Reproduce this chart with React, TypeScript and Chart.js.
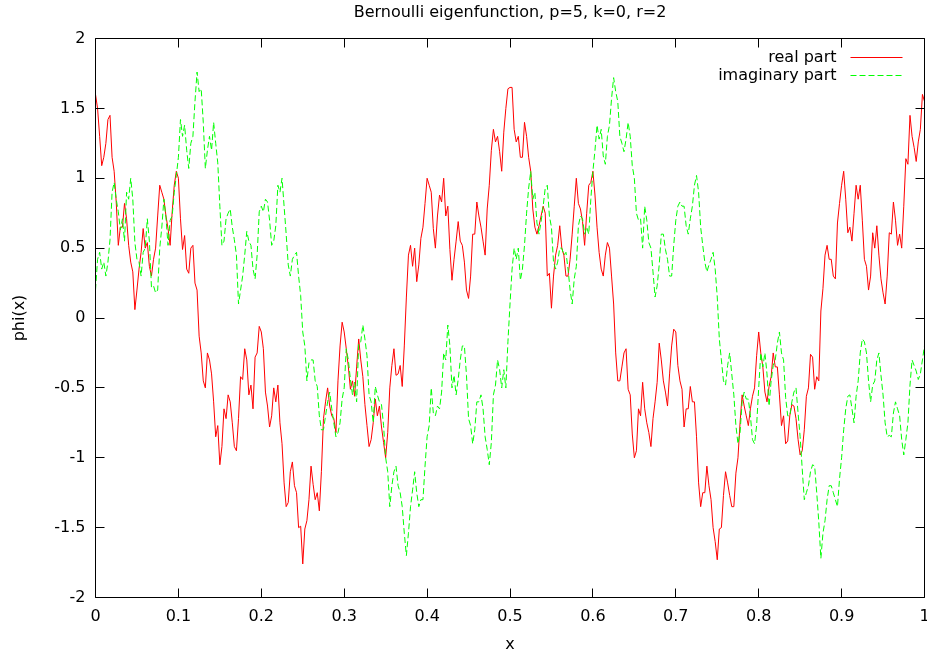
import React, { useEffect, useRef } from "react";
import { Chart, registerables } from "chart.js";

Chart.register(...registerables);

const chartTitle = "Bernoulli eigenfunction, p=5, k=0, r=2";
const xAxisLabel = "x";
const yAxisLabel = "phi(x)";
const seriesNames = ["real part", "imaginary part"];

const xValues = [
  0, 0.0025, 0.005, 0.0075, 0.01, 0.0125, 0.015, 0.0175,
  0.02, 0.0225, 0.025, 0.0275, 0.03, 0.0325, 0.035, 0.0375,
  0.04, 0.0425, 0.045, 0.0475, 0.05, 0.0525, 0.055, 0.0575,
  0.06, 0.0625, 0.065, 0.0675, 0.07, 0.0725, 0.075, 0.0775,
  0.08, 0.0825, 0.085, 0.0875, 0.09, 0.0925, 0.095, 0.0975,
  0.1, 0.1025, 0.105, 0.1075, 0.11, 0.1125, 0.115, 0.1175,
  0.12, 0.1225, 0.125, 0.1275, 0.13, 0.1325, 0.135, 0.1375,
  0.14, 0.1425, 0.145, 0.1475, 0.15, 0.1525, 0.155, 0.1575,
  0.16, 0.1625, 0.165, 0.1675, 0.17, 0.1725, 0.175, 0.1775,
  0.18, 0.1825, 0.185, 0.1875, 0.19, 0.1925, 0.195, 0.1975,
  0.2, 0.2025, 0.205, 0.2075, 0.21, 0.2125, 0.215, 0.2175,
  0.22, 0.2225, 0.225, 0.2275, 0.23, 0.2325, 0.235, 0.2375,
  0.24, 0.2425, 0.245, 0.2475, 0.25, 0.2525, 0.255, 0.2575,
  0.26, 0.2625, 0.265, 0.2675, 0.27, 0.2725, 0.275, 0.2775,
  0.28, 0.2825, 0.285, 0.2875, 0.29, 0.2925, 0.295, 0.2975,
  0.3, 0.3025, 0.305, 0.3075, 0.31, 0.3125, 0.315, 0.3175,
  0.32, 0.3225, 0.325, 0.3275, 0.33, 0.3325, 0.335, 0.3375,
  0.34, 0.3425, 0.345, 0.3475, 0.35, 0.3525, 0.355, 0.3575,
  0.36, 0.3625, 0.365, 0.3675, 0.37, 0.3725, 0.375, 0.3775,
  0.38, 0.3825, 0.385, 0.3875, 0.39, 0.3925, 0.395, 0.3975,
  0.4, 0.4025, 0.405, 0.4075, 0.41, 0.4125, 0.415, 0.4175,
  0.42, 0.4225, 0.425, 0.4275, 0.43, 0.4325, 0.435, 0.4375,
  0.44, 0.4425, 0.445, 0.4475, 0.45, 0.4525, 0.455, 0.4575,
  0.46, 0.4625, 0.465, 0.4675, 0.47, 0.4725, 0.475, 0.4775,
  0.48, 0.4825, 0.485, 0.4875, 0.49, 0.4925, 0.495, 0.4975,
  0.5, 0.5025, 0.505, 0.5075, 0.51, 0.5125, 0.515, 0.5175,
  0.52, 0.5225, 0.525, 0.5275, 0.53, 0.5325, 0.535, 0.5375,
  0.54, 0.5425, 0.545, 0.5475, 0.55, 0.5525, 0.555, 0.5575,
  0.56, 0.5625, 0.565, 0.5675, 0.57, 0.5725, 0.575, 0.5775,
  0.58, 0.5825, 0.585, 0.5875, 0.59, 0.5925, 0.595, 0.5975,
  0.6, 0.6025, 0.605, 0.6075, 0.61, 0.6125, 0.615, 0.6175,
  0.62, 0.6225, 0.625, 0.6275, 0.63, 0.6325, 0.635, 0.6375,
  0.64, 0.6425, 0.645, 0.6475, 0.65, 0.6525, 0.655, 0.6575,
  0.66, 0.6625, 0.665, 0.6675, 0.67, 0.6725, 0.675, 0.6775,
  0.68, 0.6825, 0.685, 0.6875, 0.69, 0.6925, 0.695, 0.6975,
  0.7, 0.7025, 0.705, 0.7075, 0.71, 0.7125, 0.715, 0.7175,
  0.72, 0.7225, 0.725, 0.7275, 0.73, 0.7325, 0.735, 0.7375,
  0.74, 0.7425, 0.745, 0.7475, 0.75, 0.7525, 0.755, 0.7575,
  0.76, 0.7625, 0.765, 0.7675, 0.77, 0.7725, 0.775, 0.7775,
  0.78, 0.7825, 0.785, 0.7875, 0.79, 0.7925, 0.795, 0.7975,
  0.8, 0.8025, 0.805, 0.8075, 0.81, 0.8125, 0.815, 0.8175,
  0.82, 0.8225, 0.825, 0.8275, 0.83, 0.8325, 0.835, 0.8375,
  0.84, 0.8425, 0.845, 0.8475, 0.85, 0.8525, 0.855, 0.8575,
  0.86, 0.8625, 0.865, 0.8675, 0.87, 0.8725, 0.875, 0.8775,
  0.88, 0.8825, 0.885, 0.8875, 0.89, 0.8925, 0.895, 0.8975,
  0.9, 0.9025, 0.905, 0.9075, 0.91, 0.9125, 0.915, 0.9175,
  0.92, 0.9225, 0.925, 0.9275, 0.93, 0.9325, 0.935, 0.9375,
  0.94, 0.9425, 0.945, 0.9475, 0.95, 0.9525, 0.955, 0.9575,
  0.96, 0.9625, 0.965, 0.9675, 0.97, 0.9725, 0.975, 0.9775,
  0.98, 0.9825, 0.985, 0.9875, 0.99, 0.9925, 0.995, 0.9975,
  1,
];

const realPart = [
  1.6, 1.5, 1.3, 1.09, 1.15, 1.25, 1.42, 1.45,
  1.15, 1.05, 0.83, 0.52, 0.65, 0.65, 0.82, 0.71,
  0.52, 0.4, 0.33, 0.06, 0.2, 0.35, 0.47, 0.64,
  0.5, 0.54, 0.37, 0.3, 0.42, 0.5, 0.73, 0.95,
  0.9, 0.85, 0.73, 0.64, 0.52, 0.76, 0.95, 1.05,
  1.0, 0.71, 0.49, 0.59, 0.35, 0.32, 0.5, 0.52,
  0.25, 0.2, -0.13, -0.25, -0.45, -0.5, -0.25, -0.3,
  -0.4, -0.6, -0.85, -0.77, -1.05, -0.92, -0.65, -0.72,
  -0.55, -0.6, -0.75, -0.92, -0.95, -0.72, -0.42, -0.44,
  -0.22, -0.3, -0.55, -0.48, -0.65, -0.28, -0.25, -0.06,
  -0.1, -0.22, -0.53, -0.63, -0.78, -0.7, -0.5, -0.6,
  -0.48, -0.75, -0.9, -1.18, -1.35, -1.32, -1.1, -1.03,
  -1.2, -1.25, -1.5, -1.49, -1.76, -1.51, -1.45, -1.3,
  -1.06, -1.19, -1.3, -1.25, -1.38, -1.1, -0.72, -0.6,
  -0.5, -0.63, -0.7, -0.72, -0.82, -0.45, -0.2, -0.03,
  -0.1, -0.22, -0.35, -0.51, -0.45, -0.56, -0.35, -0.15,
  -0.3, -0.42, -0.62, -0.77, -0.92, -0.87, -0.75, -0.58,
  -0.7, -0.63, -0.78, -0.89, -1.0, -0.82, -0.5, -0.34,
  -0.22, -0.41, -0.4, -0.34, -0.49, -0.2, 0.15, 0.45,
  0.52, 0.37, 0.5, 0.26, 0.38, 0.57, 0.65, 0.82,
  1.0, 0.95, 0.9, 0.64, 0.5, 0.73, 0.88, 0.83,
  1.0, 0.73, 0.8, 0.49, 0.27, 0.42, 0.55, 0.69,
  0.55, 0.52, 0.4, 0.2, 0.14, 0.3, 0.6, 0.6,
  0.83, 0.73, 0.65, 0.55, 0.45, 0.78, 0.95, 1.2,
  1.35, 1.26, 1.3, 1.19, 1.05, 1.33, 1.5, 1.64,
  1.65, 1.65, 1.35, 1.26, 1.3, 1.15, 1.15, 1.4,
  1.3, 1.15, 1.05, 0.78, 0.65, 0.6, 0.66, 0.73,
  0.8, 0.75, 0.3, 0.32, 0.07, 0.3, 0.45, 0.52,
  0.66, 0.5, 0.45, 0.3, 0.3, 0.42, 0.6, 0.8,
  1.0, 0.82, 0.78, 0.69, 0.52, 0.75, 0.95, 0.97,
  1.05, 0.88, 0.65, 0.47, 0.35, 0.3, 0.45, 0.54,
  0.5, 0.3, 0.1, -0.25, -0.45, -0.45, -0.35, -0.25,
  -0.22, -0.51, -0.55, -0.83, -1.0, -0.95, -0.65, -0.7,
  -0.46, -0.65, -0.75, -0.82, -0.92, -0.72, -0.6, -0.46,
  -0.18, -0.3, -0.45, -0.53, -0.63, -0.4, -0.2, -0.08,
  -0.1, -0.34, -0.45, -0.51, -0.78, -0.65, -0.65, -0.49,
  -0.6, -0.6, -0.85, -1.18, -1.35, -1.25, -1.25, -1.06,
  -1.2, -1.3, -1.5, -1.6, -1.73, -1.51, -1.5, -1.27,
  -1.1, -1.18, -1.27, -1.35, -1.35, -1.11, -1.0, -0.75,
  -0.55, -0.63, -0.7, -0.77, -0.65, -0.56, -0.5, -0.27,
  -0.1, -0.25, -0.35, -0.53, -0.6, -0.49, -0.42, -0.25,
  -0.35, -0.35, -0.55, -0.77, -0.7, -0.9, -0.88, -0.7,
  -0.62, -0.63, -0.72, -0.87, -0.98, -0.95, -0.8, -0.56,
  -0.5, -0.26, -0.28, -0.51, -0.42, -0.45, 0.05, 0.21,
  0.45, 0.52, 0.42, 0.42, 0.3, 0.28, 0.68, 0.82,
  0.95, 1.05, 0.85, 0.61, 0.65, 0.55, 0.75, 0.95,
  0.85, 0.95, 0.7, 0.42, 0.37, 0.2, 0.3, 0.61,
  0.5, 0.66, 0.45, 0.28, 0.18, 0.1, 0.3, 0.61,
  0.6, 0.83, 0.7, 0.52, 0.6, 0.5, 0.8, 1.14,
  1.1, 1.45, 1.3, 1.22, 1.12, 1.26, 1.35, 1.6,
  1.55,
];

const imaginaryPart = [
  0.2, 0.42, 0.47, 0.35, 0.4, 0.3, 0.4, 0.56,
  0.9, 0.97, 0.85, 0.76, 0.63, 0.71, 0.55, 0.9,
  0.85, 1.0, 0.85, 0.54, 0.42, 0.4, 0.3, 0.47,
  0.5, 0.71, 0.55, 0.22, 0.23, 0.18, 0.2, 0.5,
  0.65, 0.85, 0.72, 0.52, 0.7, 0.73, 0.9, 1.02,
  1.15, 1.42, 1.3, 1.38, 1.2, 1.07, 1.25, 1.3,
  1.55, 1.76, 1.62, 1.64, 1.4, 1.07, 1.2, 1.3,
  1.2, 1.4, 1.25, 1.11, 0.8, 0.52, 0.55, 0.71,
  0.75, 0.78, 0.65, 0.56, 0.45, 0.1, 0.2, 0.3,
  0.45, 0.62, 0.55, 0.52, 0.35, 0.28, 0.45, 0.76,
  0.8, 0.76, 0.85, 0.83, 0.7, 0.52, 0.55, 0.66,
  0.95, 0.9, 1.0, 0.8, 0.6, 0.38, 0.3, 0.42,
  0.45, 0.47, 0.3, 0.16, -0.1, -0.2, -0.45, -0.32,
  -0.3, -0.3, -0.45, -0.49, -0.7, -0.8, -0.8, -0.7,
  -0.6, -0.53, -0.65, -0.75, -0.85, -0.82, -0.75, -0.58,
  -0.5, -0.22, -0.3, -0.44, -0.55, -0.46, -0.6, -0.18,
  -0.17, -0.05, -0.15, -0.27, -0.55, -0.6, -0.75, -0.49,
  -0.55, -0.6, -0.62, -0.77, -1.0, -1.1, -1.35, -1.2,
  -1.1, -1.06, -1.2, -1.25, -1.35, -1.54, -1.7, -1.54,
  -1.35, -1.23, -1.1, -1.25, -1.35, -1.3, -1.3, -1.06,
  -0.85, -0.77, -0.5, -0.68, -0.7, -0.63, -0.65, -0.53,
  -0.25, -0.3, -0.05, -0.2, -0.5, -0.41, -0.55, -0.44,
  -0.3, -0.2, -0.2, -0.41, -0.72, -0.77, -0.9, -0.8,
  -0.6, -0.6, -0.55, -0.65, -0.85, -0.94, -1.05, -0.89,
  -0.55, -0.48, -0.3, -0.37, -0.5, -0.37, -0.5, -0.17,
  0.1, 0.35, 0.5, 0.42, 0.5, 0.27, 0.35, 0.52,
  0.75, 0.93, 1.05, 0.85, 0.9, 0.68, 0.6, 0.69,
  0.8, 0.93, 0.95, 0.73, 0.65, 0.4, 0.35, 0.4,
  0.5, 0.5, 0.45, 0.47, 0.35, 0.2, 0.1, 0.28,
  0.37, 0.66, 0.73, 0.71, 0.6, 0.65, 0.6, 0.85,
  1.05, 1.2, 1.38, 1.28, 1.35, 1.16, 1.1, 1.3,
  1.38, 1.57, 1.72, 1.62, 1.55, 1.3, 1.25, 1.19,
  1.28, 1.4, 1.3, 1.09, 1.0, 0.75, 0.7, 0.71,
  0.5, 0.8, 0.7, 0.54, 0.5, 0.33, 0.15, 0.23,
  0.38, 0.6, 0.6, 0.49, 0.42, 0.3, 0.3, 0.52,
  0.7, 0.8, 0.83, 0.8, 0.8, 0.66, 0.6, 0.71,
  0.8, 0.95, 1.02, 0.9, 0.65, 0.52, 0.4, 0.33,
  0.38, 0.42, 0.47, 0.35, 0.15, -0.15, -0.3, -0.45,
  -0.48, -0.34, -0.25, -0.4, -0.55, -0.77, -0.9, -0.82,
  -0.6, -0.53, -0.58, -0.58, -0.7, -0.87, -0.9, -0.77,
  -0.5, -0.25, -0.35, -0.25, -0.4, -0.63, -0.45, -0.34,
  -0.3, -0.18, -0.1, -0.25, -0.3, -0.57, -0.7, -0.7,
  -0.6, -0.53, -0.5, -0.68, -0.85, -1.08, -1.3, -1.25,
  -1.2, -1.1, -1.05, -1.06, -1.25, -1.46, -1.72, -1.54,
  -1.45, -1.3, -1.2, -1.2, -1.25, -1.3, -1.35, -1.15,
  -1.0, -0.8, -0.65, -0.56, -0.55, -0.65, -0.75, -0.56,
  -0.45, -0.25, -0.15, -0.17, -0.25, -0.45, -0.6, -0.48,
  -0.45, -0.3, -0.25, -0.41, -0.55, -0.75, -0.85, -0.84,
  -0.85, -0.68, -0.6, -0.65, -0.7, -0.87, -0.98, -0.87,
  -0.75, -0.48, -0.3, -0.34, -0.38, -0.44, -0.4, -0.3,
  -0.2,
];

const FONT_FAMILY = "'DejaVu Sans', 'Liberation Sans', sans-serif";
const FONT_SIZE = 16;
const TICK_LEN = 9;

const framePlugin = {
  id: "gnuplotFrame",
  afterDatasetsDraw(chart: any) {
    const { ctx, chartArea, scales } = chart;
    const L = Math.floor(chartArea.left) + 0.5;
    const R = Math.floor(chartArea.right) + 0.5;
    const T = Math.floor(chartArea.top) + 0.5;
    const B = Math.floor(chartArea.bottom) + 0.5;
    ctx.save();
    ctx.strokeStyle = "#000";
    ctx.lineWidth = 1;
    ctx.setLineDash([]);
    ctx.beginPath();
    ctx.rect(L, T, R - L, B - T);
    for (const t of scales.y.ticks) {
      const py = Math.floor(scales.y.getPixelForValue(t.value)) + 0.5;
      ctx.moveTo(L, py);
      ctx.lineTo(L + TICK_LEN, py);
      ctx.moveTo(R, py);
      ctx.lineTo(R - TICK_LEN, py);
    }
    for (const t of scales.x.ticks) {
      const px = Math.floor(scales.x.getPixelForValue(t.value)) + 0.5;
      ctx.moveTo(px, B);
      ctx.lineTo(px, B - TICK_LEN);
      ctx.moveTo(px, T);
      ctx.lineTo(px, T + TICK_LEN);
    }
    ctx.stroke();
    ctx.restore();
  },
};

const legendPlugin = {
  id: "gnuplotKey",
  afterDraw(chart: any) {
    const { ctx, chartArea } = chart;
    const lineEnd = chartArea.right - 22;
    const lineStart = lineEnd - 52;
    const textRight = lineStart - 14;
    ctx.save();
    ctx.font = `${FONT_SIZE}px ${FONT_FAMILY}`;
    ctx.textAlign = "right";
    ctx.textBaseline = "middle";
    chart.data.datasets.forEach((ds: any, i: number) => {
      const y = Math.round(chartArea.top + 18 + i * 18) + 0.5;
      ctx.fillStyle = "#000";
      ctx.fillText(ds.label, textRight, y);
      ctx.strokeStyle = ds.borderColor;
      ctx.lineWidth = 1;
      ctx.setLineDash(ds.borderDash || []);
      ctx.beginPath();
      ctx.moveTo(lineStart, y);
      ctx.lineTo(lineEnd, y);
      ctx.stroke();
    });
    ctx.restore();
  },
};

function fmtTick(v: number) {
  return String(Math.round(v * 10) / 10);
}

export default function App() {
  const canvasRef = useRef<HTMLCanvasElement | null>(null);

  useEffect(() => {
    document.body.style.margin = "0";
    const canvas = canvasRef.current;
    if (!canvas) return;
    const realData = xValues.map((x, i) => ({ x, y: realPart[i] }));
    const imagData = xValues.map((x, i) => ({ x, y: imaginaryPart[i] }));

    const chart = new Chart(canvas, {
      type: "line",
      data: {
        datasets: [
          {
            label: seriesNames[0],
            data: realData,
            borderColor: "#ff0000",
            backgroundColor: "#ff0000",
            borderWidth: 1,
            pointRadius: 0,
            tension: 0,
            order: 1,
          },
          {
            label: seriesNames[1],
            data: imagData,
            borderColor: "#00ff00",
            backgroundColor: "#00ff00",
            borderWidth: 1,
            borderDash: [6, 3],
            pointRadius: 0,
            tension: 0,
            order: 0,
          },
        ],
      },
      options: {
        animation: false,
        responsive: false,
        devicePixelRatio: 1,
        color: "#000",
        font: { family: FONT_FAMILY, size: FONT_SIZE },
        layout: { padding: { left: 0, right: 2.5, top: 0, bottom: 0 } },
        plugins: {
          legend: { display: false },
          tooltip: { enabled: false },
          title: {
            display: true,
            fullSize: false,
            text: chartTitle,
            color: "#000",
            font: { family: FONT_FAMILY, size: FONT_SIZE, weight: "normal" },
            padding: { top: 3.4, bottom: 15.9 },
          },
        },
        scales: {
          x: {
            type: "linear",
            min: 0,
            max: 1,
            grid: { display: false, drawTicks: false },
            border: { display: false },
            ticks: {
              stepSize: 0.1,
              color: "#000",
              padding: 9.9,
              maxRotation: 0,
              autoSkip: false,
              font: { family: FONT_FAMILY, size: FONT_SIZE },
              callback: (v: any) => fmtTick(Number(v)),
            },
            title: {
              display: true,
              text: xAxisLabel,
              color: "#000",
              font: { family: FONT_FAMILY, size: FONT_SIZE },
              padding: { top: 0, bottom: 0.4 },
            },
            afterFit: (scale: any) => {
              scale.height = 57.5;
              scale.paddingLeft = 0;
              scale.paddingRight = 0;
            },
          },
          y: {
            type: "linear",
            min: -2,
            max: 2,
            grid: { display: false, drawTicks: false },
            border: { display: false },
            ticks: {
              stepSize: 0.5,
              color: "#000",
              padding: 10,
              autoSkip: false,
              font: { family: FONT_FAMILY, size: FONT_SIZE },
              callback: (v: any) => fmtTick(Number(v)),
            },
            title: {
              display: true,
              text: yAxisLabel,
              color: "#000",
              font: { family: FONT_FAMILY, size: FONT_SIZE },
              padding: { top: 10.4, bottom: 0 },
            },
            afterFit: (scale: any) => {
              scale.width = 95.5;
              scale.paddingTop = 0;
              scale.paddingBottom = 0;
            },
          },
        },
      },
      plugins: [framePlugin, legendPlugin],
    });

    return () => chart.destroy();
  }, []);

  return (
    <div style={{ width: 927, height: 655, background: "#fff" }}>
      <canvas ref={canvasRef} width={927} height={655} style={{ display: "block" }} />
    </div>
  );
}
